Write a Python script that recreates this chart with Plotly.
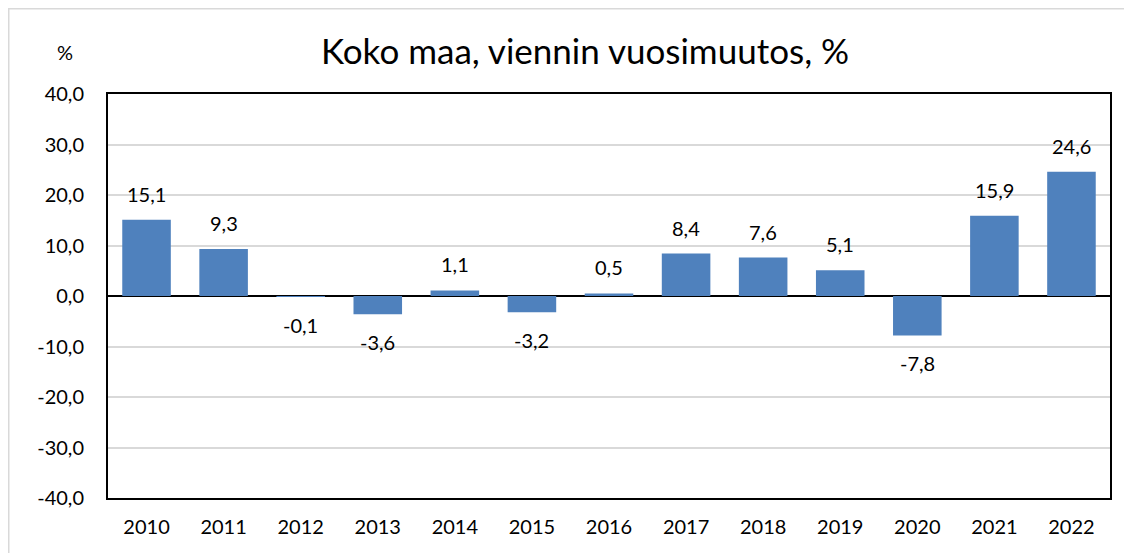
import plotly.graph_objects as go

years = ["2010", "2011", "2012", "2013", "2014", "2015", "2016", "2017", "2018", "2019", "2020", "2021", "2022"]
values = [15.1, 9.3, -0.1, -3.6, 1.1, -3.2, 0.5, 8.4, 7.6, 5.1, -7.8, 15.9, 24.6]
y_ticks = [-40, -30, -20, -10, 0, 10, 20, 30, 40]
y_tick_labels = [f"{v:.1f}".replace(".", ",") for v in y_ticks]
labels = [f"{v:.1f}".replace(".", ",") for v in values]

# figure is placed at an 8px page offset
W, H = 1124, 545
L, R, T, B = 100, 22, 86, 55
pw, ph = W - L - R, H - T - B

FONT = "Lato"
LBL = 20

fig = go.Figure(go.Bar(
    x=years, y=values,
    marker=dict(color="#4F81BD", line=dict(width=0)),
    width=0.63,
    hoverinfo="x+y",
))

# data labels: category axis positions are the serial index of each year
for i, (v, t) in enumerate(zip(values, labels)):
    fig.add_annotation(x=i, y=v, xref="x", yref="y", text=t, showarrow=False,
                       yanchor="middle", xanchor="center",
                       yshift=26 if v >= 0 else -28,
                       font=dict(family=FONT, size=LBL, color="#000000"))

fig.update_layout(
    width=W, height=H,
    margin=dict(l=L, r=R, t=T, b=B),
    paper_bgcolor="white", plot_bgcolor="white",
    showlegend=False,
    font=dict(family=FONT, size=LBL, color="#000000"),
    title=dict(text="Koko maa, viennin vuosimuutos, %", x=(577 - L) / pw, xref="paper",
               xanchor="center", y=1 - 44 / H, yanchor="middle",
               font=dict(family=FONT, size=35, color="#000000")),
    xaxis=dict(type="category", range=[-0.5, len(years) - 0.5],
               showgrid=False, ticks="", showline=True, linecolor="black", linewidth=2,
               mirror=True, tickfont=dict(size=LBL), ticklabelstandoff=10),
    yaxis=dict(range=[-40, 40], tickvals=y_ticks, ticktext=y_tick_labels,
               showgrid=True, gridcolor="#D9D9D9", gridwidth=2,
               zeroline=True, zerolinecolor="black", zerolinewidth=2,
               showline=True, linecolor="black", linewidth=2, mirror=True,
               ticks="", tickfont=dict(size=LBL), ticklabelstandoff=18),
)

fig.add_annotation(text="%", xref="paper", yref="paper",
                   x=(57 - L) / pw, y=1 + (T - 44) / ph, xanchor="center", yanchor="middle",
                   showarrow=False, font=dict(family=FONT, size=LBL, color="#000000"))

fig.add_shape(type="rect", xref="paper", yref="paper",
              x0=(0.5 - L) / pw, x1=(W + 20 - L) / pw,
              y0=-(H + 20 - T - ph) / ph, y1=1 + (T - 0.5) / ph,
              line=dict(color="#D9D9D9", width=2), layer="below")

fig.write_html("out.html")
